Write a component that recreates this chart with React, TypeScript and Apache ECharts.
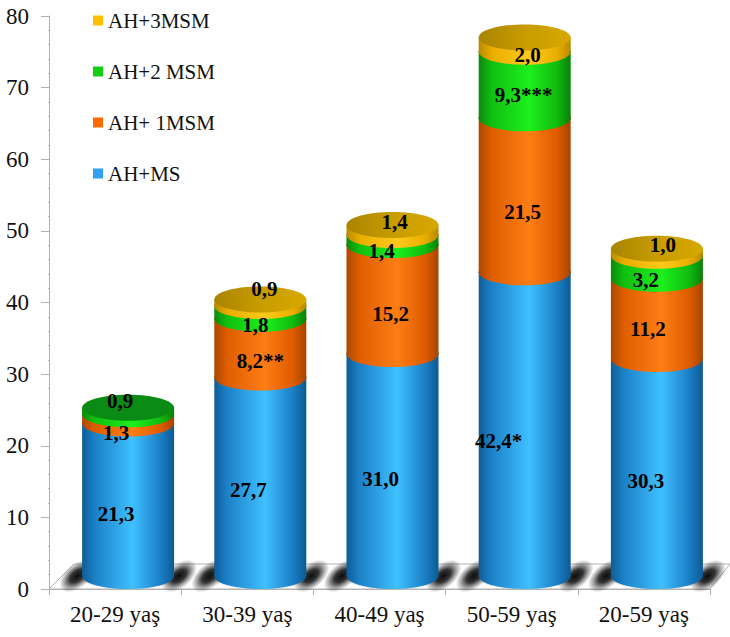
import React, { useEffect, useRef } from "react";
import * as echarts from "echarts";

// Prevalence by age band, percent, stacked per number of metabolic syndrome components.
const ageBands = ["20-29 yaş", "30-39 yaş", "40-49 yaş", "50-59 yaş", "20-59 yaş"];
const seriesNames = ["AH+MS", "AH+ 1MSM", "AH+2 MSM", "AH+3MSM"];
const ahMs = [21.3, 27.7, 31.0, 42.4, 30.3];
const ahOne = [1.3, 8.2, 15.2, 21.5, 11.2];
const ahTwo = [0.9, 1.8, 1.4, 9.3, 3.2];
const ahThree = [null, 0.9, 1.4, 2.0, 1.0];
const significance = [
  ["", "", "", "*", ""],
  ["", "**", "", "", ""],
  ["", "", "", "***", ""],
  ["", "", "", "", ""],
];
const yMax = 80;
const yStep = 10;

const stacks = [ahMs, ahOne, ahTwo, ahThree];

const SERIF = '"Liberation Serif", "Times New Roman", serif';
const DEPTH_X = 13;
const DEPTH_Y = 13;
const FLOOR_DEPTH = 25;
const RADIUS_X = 46;
const RADIUS_Y = 13;

const sideGradient = (stops: [number, string][]) => ({
  type: "linear",
  x: 0,
  y: 0,
  x2: 1,
  y2: 0,
  colorStops: stops.map(([offset, color]) => ({ offset, color })),
});

const palette = [
  {
    flat: "#2fa0f5",
    top: "#1f8ad8",
    side: sideGradient([
      [0, "#0d5c96"],
      [0.13, "#1b7fc6"],
      [0.55, "#3fc0ff"],
      [0.85, "#1b7fc6"],
      [1, "#0c5a92"],
    ]),
  },
  {
    flat: "#ff6a00",
    top: "#c85200",
    side: sideGradient([
      [0, "#ad4700"],
      [0.14, "#de5e00"],
      [0.55, "#ff7d14"],
      [0.85, "#de5c00"],
      [1, "#a84400"],
    ]),
  },
  {
    flat: "#10d010",
    top: "#0a8c14",
    side: sideGradient([
      [0, "#0a8a0a"],
      [0.14, "#10bf10"],
      [0.55, "#1cf01c"],
      [0.85, "#10bb10"],
      [1, "#088008"],
    ]),
  },
  {
    flat: "#ffc000",
    top: sideGradient([
      [0, "#a88400"],
      [0.5, "#c89c00"],
      [1, "#d8a800"],
    ]),
    side: sideGradient([
      [0, "#b88a00"],
      [0.15, "#eaae00"],
      [0.55, "#ffca1c"],
      [0.85, "#eaae00"],
      [1, "#b88a00"],
    ]),
  },
];

// Hand placement of the value labels, in pixels, one row per stack level.
const labelDx = [
  [1, 1, 1, -13, 2],
  [1, 13, 11, 11, 4],
  [5, 8, 2, 12, 2],
  [0, 17, 15, 16, 19],
];
const labelDy = [
  [1, 0, 1, 4, 1],
  [1, 0, 1, 4, -3],
  [-23, 0, -2, -3, 0],
  [0, -27, -21, -3, -20],
];

const formatValue = (v: number) => v.toFixed(1).replace(".", ",");

const topLevelOf = (band: number) => {
  let level = 0;
  stacks.forEach((values, i) => {
    if (values[band] != null) level = i;
  });
  return level;
};

const stackRows = (level: number) =>
  stacks[level].map((value, band) => {
    let base = 0;
    for (let i = 0; i < level; i++) base += stacks[i][band] ?? 0;
    return [band, base, value == null ? base : base + value];
  });

const cylinderRenderer = (level: number) => (_params: any, api: any) => {
  const band = api.value(0);
  const bottomValue = api.value(1);
  const topValue = api.value(2);
  if (topValue <= bottomValue) return null;
  const [px, bottomY] = api.coord([band, bottomValue]);
  const topY = api.coord([band, topValue])[1];
  const cx = px + DEPTH_X;
  const y0 = bottomY - DEPTH_Y;
  const y1 = topY - DEPTH_Y;
  const colors = palette[level];
  const children: any[] = [
    {
      type: "ellipse",
      shape: { cx, cy: y0, rx: RADIUS_X, ry: RADIUS_Y },
      style: { fill: colors.side },
    },
    {
      type: "rect",
      shape: { x: cx - RADIUS_X, y: y1, width: RADIUS_X * 2, height: y0 - y1 },
      style: { fill: colors.side },
    },
  ];
  children.push({
    type: "ellipse",
    shape: { cx, cy: y1, rx: RADIUS_X, ry: RADIUS_Y },
    style: { fill: topLevelOf(band) === level ? colors.top : colors.side },
  });
  return { type: "group", children };
};

// Radial falloff used for the floor shadows: dense near the cylinder, fading outward.
const softBlack = {
  type: "radial",
  x: 0.5,
  y: 0.5,
  r: 0.5,
  colorStops: [
    { offset: 0, color: "rgba(0,0,0,0.95)" },
    { offset: 0.4, color: "rgba(0,0,0,0.8)" },
    { offset: 0.75, color: "rgba(0,0,0,0.3)" },
    { offset: 1, color: "rgba(0,0,0,0)" },
  ],
};

const floorRenderer = (params: any, api: any) => {
  const sys = params.coordSys;
  const front = sys.y + sys.height;
  const back = front - FLOOR_DEPTH;
  const left = sys.x;
  const right = sys.x + sys.width;
  const children: any[] = [
    {
      type: "polygon",
      shape: {
        points: [
          [left, front],
          [left + FLOOR_DEPTH, back],
          [right + 20, back],
          [right, front],
        ],
      },
      style: { fill: "#ffffff", stroke: "#b4b4b4", lineWidth: 1 },
    },
  ];
  ageBands.forEach((_, band) => {
    const cx = api.coord([band, 0])[0] + DEPTH_X;
    const cy = front - DEPTH_Y;
    // Slanted shadow either side of the cylinder's foot, plus a dark rim beneath it.
    [cx - RADIUS_X - 5, cx + RADIUS_X + 5].forEach((bx) => {
      children.push({
        type: "ellipse",
        x: bx,
        y: cy,
        rotation: 0.7,
        shape: { cx: 0, cy: 0, rx: 21, ry: 12 },
        style: { fill: softBlack },
      });
    });
    children.push({
      type: "ellipse",
      shape: { cx, cy: cy + 0.5, rx: RADIUS_X + 6, ry: RADIUS_Y },
      style: { fill: softBlack },
    });
  });
  return { type: "group", children };
};

const labelRows: any[] = [];
stacks.forEach((values, level) => {
  values.forEach((value, band) => {
    if (value == null) return;
    const rows = stackRows(level);
    labelRows.push([
      band,
      (rows[band][1] + rows[band][2]) / 2,
      level,
      formatValue(value) + significance[level][band],
    ]);
  });
});

const labelRenderer = (_params: any, api: any) => {
  const band = api.value(0);
  const mid = api.value(1);
  const level = api.value(2);
  const [x, y] = api.coord([band, mid]);
  return {
    type: "text",
    style: {
      x: x + labelDx[level][band],
      y: y + labelDy[level][band],
      text: labelRows[_params.dataIndex][3],
      fill: "#000000",
      font: `bold 21px ${SERIF}`,
      align: "center",
      verticalAlign: "middle",
    },
  };
};

export default function App() {
  const ref = useRef<HTMLDivElement>(null);

  useEffect(() => {
    document.body.style.margin = "0";
    const chart = echarts.init(ref.current!, undefined, { renderer: "svg" });
    chart.setOption({
      animation: false,
      backgroundColor: "#ffffff",
      legend: {
        orient: "vertical",
        left: 88,
        top: 5,
        itemWidth: 10,
        itemHeight: 10,
        itemGap: 30,
        selectedMode: false,
        icon: "rect",
        data: [...seriesNames].reverse(),
        textStyle: { fontFamily: SERIF, fontSize: 21, color: "#111111" },
      },
      grid: { left: 49, right: 20, top: 16, bottom: 48 },
      xAxis: {
        type: "category",
        data: ageBands,
        boundaryGap: true,
        axisLine: { lineStyle: { color: "#b0b0b0" } },
        axisTick: { show: true, length: 6, lineStyle: { color: "#b0b0b0" } },
        axisLabel: { fontFamily: SERIF, fontSize: 23, color: "#111111", margin: 14 },
      },
      yAxis: {
        type: "value",
        min: 0,
        max: yMax,
        interval: yStep,
        splitLine: { show: false },
        axisLine: { show: true, lineStyle: { color: "#b0b0b0" } },
        axisTick: { show: true, length: 8, lineStyle: { color: "#b0b0b0" } },
        minorTick: { show: true, splitNumber: 5, length: 1, lineStyle: { color: "#c4c4c4" } },
        axisLabel: { fontFamily: SERIF, fontSize: 23, color: "#111111", margin: 20 },
      },
      series: [
        {
          type: "custom",
          name: "floor",
          z: 1,
          silent: true,
          clip: false,
          data: [[0]],
          renderItem: floorRenderer,
        },
        ...seriesNames.map((name, level) => ({
          type: "custom",
          name,
          z: 2 + level,
          clip: false,
          itemStyle: { color: palette[level].flat },
          encode: { x: 0, y: 2 },
          data: stackRows(level),
          renderItem: cylinderRenderer(level),
        })),
        {
          type: "custom",
          name: "values",
          z: 10,
          silent: true,
          clip: false,
          data: labelRows.map((r) => [r[0], r[1], r[2]]),
          renderItem: labelRenderer,
        },
      ],
    });
    return () => chart.dispose();
  }, []);

  return <div ref={ref} style={{ width: 730, height: 637 }} />;
}
